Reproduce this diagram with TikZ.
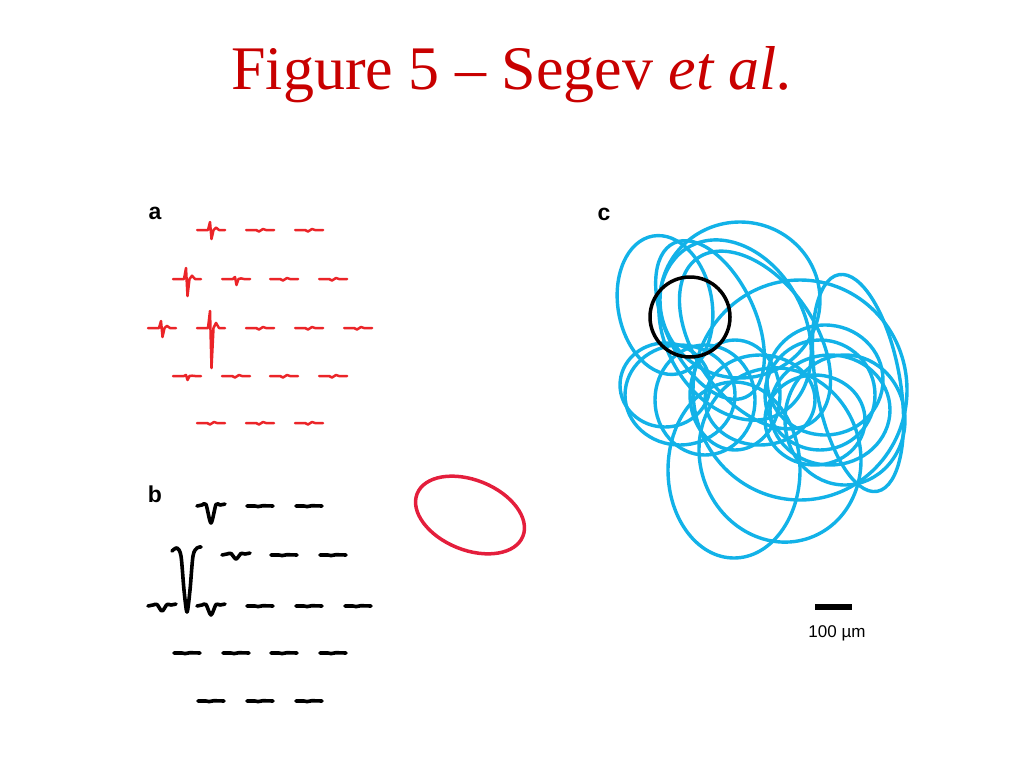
\documentclass[tikz,border=0pt]{standalone}
\usepackage{fontspec}
\setmainfont{Liberation Serif}
\setsansfont{Liberation Sans}
\definecolor{titlered}{RGB}{200,0,0}
\definecolor{tracered}{RGB}{235,36,40}
\definecolor{cellblue}{RGB}{18,178,232}
\definecolor{fieldred}{RGB}{228,30,60}

\begin{document}
\begin{tikzpicture}[x=1pt,y=-1pt,
  atrace/.style={tracered,line width=2.5pt,line join=round,line cap=round},
  btrace/.style={black,line width=3.6pt,line join=round,line cap=round},
  cell/.style={cellblue,line width=3.4pt},
  panel/.style={font=\sffamily\bfseries\fontsize{23}{23}\selectfont,anchor=base}]

\useasboundingbox (0,0) rectangle (1024,768);

\node[titlered,anchor=base,font=\fontsize{62}{62}\selectfont] (title) at (512,89) {Figure 5 -- Segev \textit{et al.}};

\node[panel] (la) at (155,219) {a};
\node[panel] (lb) at (155,502) {b};
\node[panel] (lc) at (604,220) {c};

% panel a
\foreach \x/\y in {260/230,309/230, 284/279,333/279, 260/328,309/328,358/328,
                   236/376,284/376,333/376, 211/423,260/423,309/423}
\draw[atrace] (\x-14,\y) -- (\x-4,\y) -- (\x-1,\y+1.5) -- (\x+3,\y-1) -- (\x+6,\y) -- (\x+14,\y);

\foreach \x/\y/\u/\d in {211/230/8/9, 187/279/11/17, 236/279/2/6,
                         162/328/7/9, 211/328/17/40, 187/376/1/4}
\draw[atrace] (\x-14,\y) -- (\x-3,\y) -- (\x-1,\y-\u) -- (\x+0.5,\y+\d) -- (\x+2.5,\y)
   -- (\x+5,\y-0.3*\u) -- (\x+8,\y) -- (\x+14,\y);

% panel b
\foreach \x/\y in {260/506,309/506, 284/555,333/555, 260/606,309/606,358/606,
                   187/653,236/653,284/653,333/653, 211/701,260/701,309/701}
\draw[btrace] (\x-13,\y) -- (\x-5,\y) -- (\x-2,\y+0.6) -- (\x+3,\y-0.3) -- (\x+13,\y);

\foreach \x/\y/\d in {211/506/17, 236/555/4, 162/606/5, 211/606/9}
\draw[btrace] plot[smooth] coordinates {(\x-14,\y) (\x-9,\y-1) (\x-5,\y-1.5) (\x,\y+\d)
   (\x+5,\y-1.5) (\x+9,\y-1) (\x+14,\y-2)};

\draw[btrace] plot[smooth] coordinates {(172,551) (177,548) (181,556) (184,590) (187,612)
   (190,590) (193,556) (197,548) (201,547)};

\draw[fieldred,line width=3.5pt,rotate around={-22:(470,515)}] (470,515) ellipse [x radius=57, y radius=35];

% panel c
\foreach \cx/\cy/\rx/\ry/\r in {665/305/47/70/10, 740/300/80/78/0, 735/330/70/95/28,
   755/340/60/100/35, 710/320/45/85/25, 800/390/107/110/0, 858/383/42/110/10,
   825/380/58/55/0, 820/395/55/55/0, 830/410/60/55/0, 815/420/50/45/0, 845/420/60/65/0,
   665/385/45/42/0, 680/395/55/50/0, 705/400/50/55/0, 735/395/45/55/0, 760/400/55/45/0,
   734/470/66/88/0, 780/455/80/88/20}
\draw[cell,rotate around={\r:(\cx,\cy)}] (\cx,\cy) ellipse [x radius=\rx, y radius=\ry];

\draw[black,line width=3.5pt] (690,317) circle [radius=40];

\draw[line width=6pt] (815,607) -- (852,607);
\node[anchor=base,font=\sffamily\fontsize{17}{17}\selectfont] (bar) at (837,637) {100 µm};

\end{tikzpicture}
\end{document}
